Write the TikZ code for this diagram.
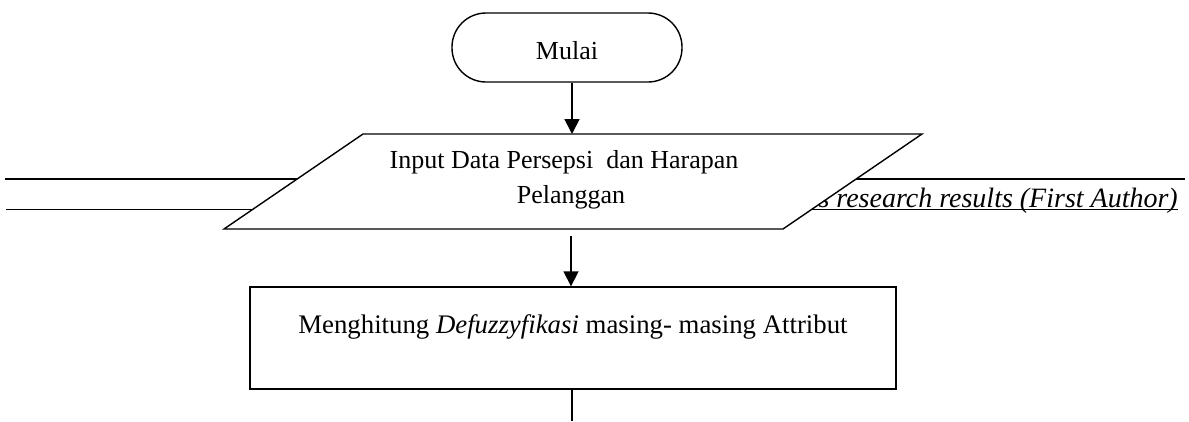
\documentclass[tikz,border=0pt]{standalone}
\usepackage{fontspec}
\setmainfont{Liberation Serif}
\usetikzlibrary{arrows.meta}
\begin{document}
\begin{tikzpicture}[x=1pt,y=-1pt,
  box/.style={draw,line width=1.4pt,font=\fontsize{26}{35}\selectfont},
  txt/.style={font=\fontsize{26}{35}\selectfont,align=center,inner sep=0pt},
  flow/.style={line width=1.7pt,-{Triangle[length=15pt,width=15pt]}},
  plain/.style={line width=1.7pt},
  rule/.style={line width=1.4pt}]
\useasboundingbox (0,0) rectangle (1189,421);
% background lines and caption
\coordinate (L1a) at (5,179); \coordinate (L1b) at (1185,179);
\coordinate (L2a) at (6,209.5); \coordinate (L2b) at (1178,209.5);
\draw[rule] (L1a) -- (L1b);
\draw[rule] (L2a) -- (L2b);
\node[anchor=base east, inner sep=0pt, font=\fontsize{28}{34}\selectfont\itshape] (cap) at (1178,207) {es research results (First Author)};
% terminator
\node[box, rounded corners=34pt, minimum width=230pt, minimum height=69pt, text height=23pt, text depth=0pt] (start) at (567,47.5) {Mulai};
% parallelogram
\coordinate (pBL) at (224,229);
\coordinate (pTL) at (363,134);
\coordinate (pTR) at (922,134);
\coordinate (pBR) at (783,229);
\draw[line width=1.4pt, fill=white] (pBL) -- (pTL) -- (pTR) -- (pBR) -- cycle;
\node[txt] (input) at (564,179.4) {Input Data Persepsi\ \ dan Harapan\\\hspace*{14pt}Pelanggan};
% process box
\node[box, font=\fontsize{26.8}{35}\selectfont, minimum width=646pt, minimum height=102pt, text height=18pt, text depth=28pt] (proc) at (573,338) {Menghitung \textit{Defuzzyfikasi} masing- masing Attribut};
% connectors
\coordinate (in1) at (572,134);
\coordinate (out1) at (571,236);
\coordinate (down) at (572,421);
\draw[flow] (start.south -| in1) -- (in1);
\draw[flow] (out1) -- (proc.north -| out1);
\draw[plain] (proc.south -| down) -- (down);
\end{tikzpicture}
\end{document}
